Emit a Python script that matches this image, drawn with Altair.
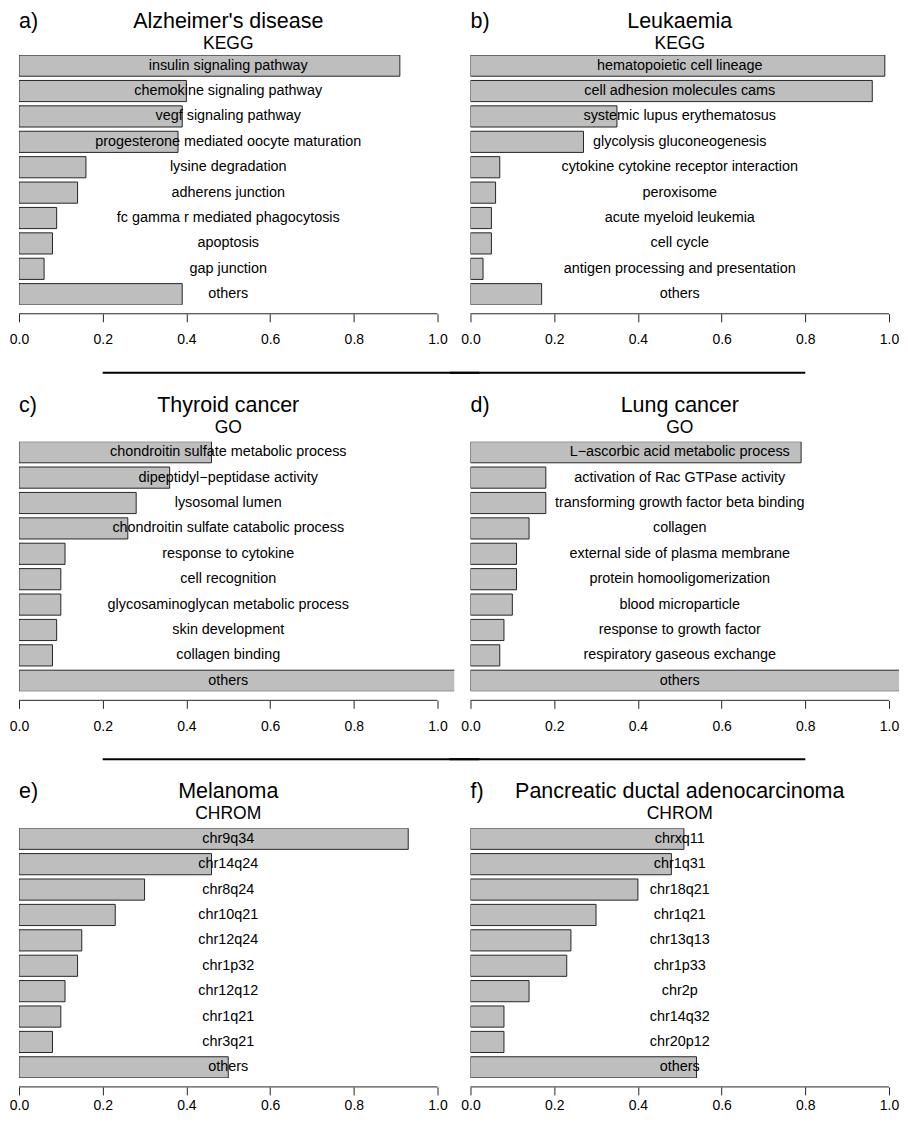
import altair as alt
import pandas as pd

FONT = "Liberation Sans"

letters = ["a)", "b)", "c)", "d)", "e)", "f)"]
titles = ["Alzheimer's disease", "Leukaemia", "Thyroid cancer", "Lung cancer",
          "Melanoma", "Pancreatic ductal adenocarcinoma"]
subtitles = ["KEGG", "KEGG", "GO", "GO", "CHROM", "CHROM"]

terms_a = ["insulin signaling pathway", "chemokine signaling pathway", "vegf signaling pathway",
           "progesterone mediated oocyte maturation", "lysine degradation", "adherens junction",
           "fc gamma r mediated phagocytosis", "apoptosis", "gap junction", "others"]
vals_a = [0.91, 0.40, 0.39, 0.38, 0.16, 0.14, 0.09, 0.08, 0.06, 0.39]

terms_b = ["hematopoietic cell lineage", "cell adhesion molecules cams", "systemic lupus erythematosus",
           "glycolysis gluconeogenesis", "cytokine cytokine receptor interaction", "peroxisome",
           "acute myeloid leukemia", "cell cycle", "antigen processing and presentation", "others"]
vals_b = [0.99, 0.96, 0.35, 0.27, 0.07, 0.06, 0.05, 0.05, 0.03, 0.17]

terms_c = ["chondroitin sulfate metabolic process", "dipeptidyl\u2212peptidase activity", "lysosomal lumen",
           "chondroitin sulfate catabolic process", "response to cytokine", "cell recognition",
           "glycosaminoglycan metabolic process", "skin development", "collagen binding", "others"]
vals_c = [0.46, 0.36, 0.28, 0.26, 0.11, 0.10, 0.10, 0.09, 0.08, 1.20]

terms_d = ["L\u2212ascorbic acid metabolic process", "activation of Rac GTPase activity",
           "transforming growth factor beta binding", "collagen", "external side of plasma membrane",
           "protein homooligomerization", "blood microparticle", "response to growth factor",
           "respiratory gaseous exchange", "others"]
vals_d = [0.79, 0.18, 0.18, 0.14, 0.11, 0.11, 0.10, 0.08, 0.07, 1.20]

terms_e = ["chr9q34", "chr14q24", "chr8q24", "chr10q21", "chr12q24", "chr1p32", "chr12q12",
           "chr1q21", "chr3q21", "others"]
vals_e = [0.93, 0.46, 0.30, 0.23, 0.15, 0.14, 0.11, 0.10, 0.08, 0.50]

terms_f = ["chrxq11", "chr1q31", "chr18q21", "chr1q21", "chr13q13", "chr1p33", "chr2p",
           "chr14q32", "chr20p12", "others"]
vals_f = [0.51, 0.48, 0.40, 0.30, 0.24, 0.23, 0.14, 0.08, 0.08, 0.54]

tick_values = [0.0, 0.2, 0.4, 0.6, 0.8, 1.0]

all_terms = [terms_a, terms_b, terms_c, terms_d, terms_e, terms_f]
all_vals = [vals_a, vals_b, vals_c, vals_d, vals_e, vals_f]

H = 250
PX_PER_UNIT = 419


def qx(v):
    return alt.X(datum=v, type="quantitative")


def panel(i):
    left = (i % 2 == 0)
    row = i // 2
    sep = row < 2
    xmax = 1.04 if left else 1.024
    W = PX_PER_UNIT * xmax
    terms = all_terms[i]
    df = pd.DataFrame({"term": terms, "value": all_vals[i]})
    one = pd.DataFrame({"k": [0]})
    title_y = -27 if row == 0 else -30
    sub_y = -6.5 if row == 0 else -9
    yenc = alt.Y("term:N", sort=terms, axis=None,
                 scale=alt.Scale(paddingInner=1 / 6, paddingOuter=0))
    bars = alt.Chart(df).mark_bar(fill="#BEBEBE", stroke="#262626", strokeWidth=1, clip=True).encode(
        x=alt.X("value:Q", scale=alt.Scale(domain=[0, xmax], nice=False, zero=False),
                axis=alt.Axis(values=tick_values, format=".1f", domain=False, grid=False, title=None,
                              tickSize=8, tickColor="#262626", tickWidth=1, offset=9,
                              labelPadding=4 if row == 2 else 11, labelFontSize=14, labelFont=FONT,
                              labelColor="black", labelFlush=False, labelOverlap=False)),
        y=yenc,
    )
    labels = alt.Chart(df).mark_text(font=FONT, fontSize=14.4, color="black", align="center",
                                     baseline="middle").encode(x=qx(0.5), y=yenc, text="term:N")
    axis_line = alt.Chart(one).mark_rule(color="#262626", strokeWidth=1).encode(
        x=qx(0.0), x2=alt.datum(1.0), y=alt.value(H + 9))
    title = alt.Chart(pd.DataFrame({"t": [titles[i]]})).mark_text(
        font=FONT, fontSize=21.5, color="black", align="center", baseline="alphabetic").encode(
        x=qx(0.5), y=alt.value(title_y), text="t:N")
    sub = alt.Chart(pd.DataFrame({"t": [subtitles[i]]})).mark_text(
        font=FONT, fontSize=17.5, color="black", align="center", baseline="alphabetic").encode(
        x=qx(0.5), y=alt.value(sub_y), text="t:N")
    letter = alt.Chart(pd.DataFrame({"t": [letters[i]]})).mark_text(
        font=FONT, fontSize=21.5, color="black", align="left", baseline="alphabetic").encode(
        x=qx(0.0), y=alt.value(title_y), text="t:N")
    layers = [bars, labels, axis_line, title, sub, letter]
    if sep:
        x0, x1 = (0.2, 1.1) if left else (-0.05, 0.8)
        rule = alt.Chart(one).mark_rule(color="black", strokeWidth=2).encode(
            x=qx(x0), x2=alt.datum(x1), y=alt.value(H + 68))
        layers.append(rule)
    return alt.layer(*layers).properties(width=W, height=H)


chart = alt.concat(*[panel(i) for i in range(6)], columns=2,
                   spacing={"row": 137, "column": 16}, bounds="flush").configure_view(
    stroke=None).properties(padding={"left": 1, "top": 2.5, "right": 0, "bottom": 0},
                            background="white")

chart.save("out.html", embed_options={"renderer": "svg", "actions": False})
